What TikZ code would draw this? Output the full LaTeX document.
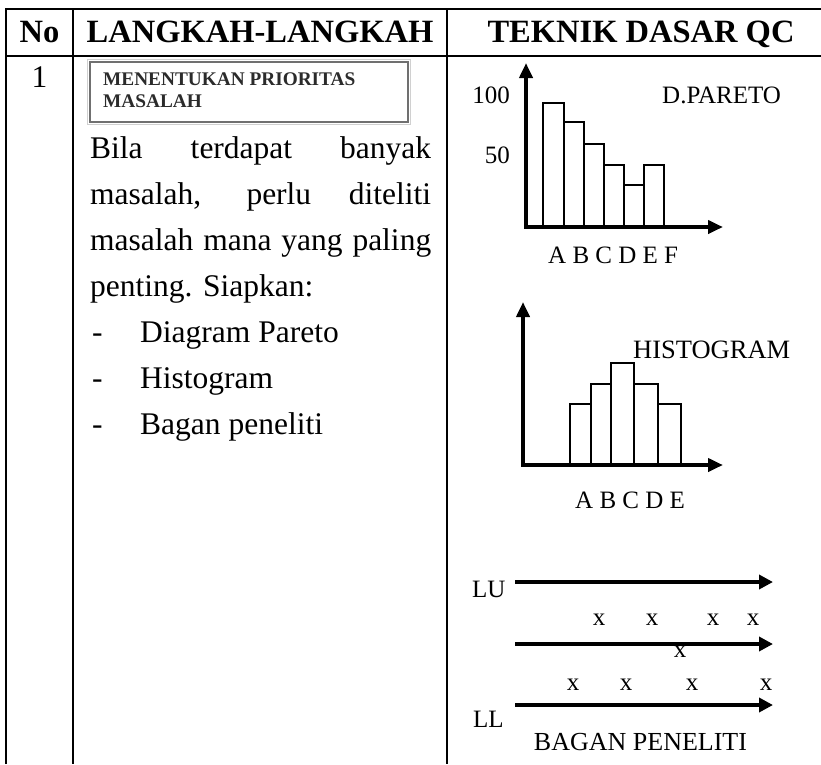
\documentclass[tikz,border=0pt]{standalone}
\usepackage{fontspec}
\setmainfont{Liberation Serif}
\usetikzlibrary{arrows.meta}
\definecolor{boxline}{HTML}{707070}
\definecolor{boxhalo}{HTML}{D0D0D0}
\definecolor{boxtext}{HTML}{2B2B2B}

\begin{document}
\begin{tikzpicture}[x=1pt,y=-1pt,
  rule/.style={line width=2.4pt,black},
  headtxt/.style={font=\fontsize{32.5}{38}\selectfont\bfseries,anchor=base,inner sep=0pt},
  bodytxt/.style={font=\fontsize{31.5}{46}\selectfont,anchor=base west,inner sep=0pt},
  boxtxt/.style={font=\fontsize{19.3}{22}\selectfont\bfseries,text=boxtext,anchor=base west,inner sep=0pt},
  charttxt/.style={font=\fontsize{25}{30}\selectfont,inner sep=0pt},
  bar/.style={line width=1.3pt,black},
  axes/.style={line width=4pt,line join=miter,
    {Triangle[length=15pt,width=13pt]}-{Triangle[length=15pt,width=13pt]}},
  timeline/.style={line width=4pt,-{Triangle[length=14pt,width=14pt]}},
  xmark/.style={charttxt,anchor=base}
]
\useasboundingbox (0,0) rectangle (821,764);

% ---------- table rules ----------
\draw[rule] (6,764) -- (6,9) -- (821,9);
\draw[rule] (6,56) -- (821,56);
\draw[rule] (73,9) -- (73,764);
\draw[rule] (447,9) -- (447,764);

% ---------- header ----------
\node[headtxt] (hno) at (39.5,42) {No};
\node[headtxt] (hsteps) at (260,42) {LANGKAH-LANGKAH};
\node[headtxt] (hqc) at (641,42) {TEKNIK DASAR QC};

% ---------- row 1 : number ----------
\node[font=\fontsize{31.5}{38}\selectfont,anchor=base,inner sep=0pt] (num) at (39.5,87) {1};

% ---------- row 1 : steps ----------
\draw[boxhalo,line width=1pt] (87.5,59.5) rectangle (410.5,124.5);
\draw[boxline,line width=1.3pt,fill=white] (90,62) rectangle (408,122);
\node[boxtxt] (title1) at (103,85) {MENENTUKAN PRIORITAS};
\node[boxtxt] (title2) at (103,107) {MASALAH};

\node[bodytxt] (l1) at (90,158) {\makebox[341pt][s]{Bila terdapat banyak}};
\node[bodytxt] (l2) at (90,204) {\makebox[341pt][s]{masalah, perlu diteliti}};
\node[bodytxt] (l3) at (90,250) {\makebox[341pt][s]{masalah mana yang paling}};
\node[bodytxt] (l4) at (90,296) {penting. Siapkan:};

\node[bodytxt] (d1) at (92,342) {-};
\node[bodytxt] (b1) at (140,342) {Diagram Pareto};
\node[bodytxt] (d2) at (92,388) {-};
\node[bodytxt] (b2) at (140,388) {Histogram};
\node[bodytxt] (d3) at (92,434) {-};
\node[bodytxt] (b3) at (140,434) {Bagan peneliti};

% ---------- Pareto diagram ----------
\coordinate (po) at (526,227);
\coordinate (pytip) at (526,63);
\coordinate (pxtip) at (723,227);
\foreach \xa/\xb/\top in {543/564/103, 564/584/122, 584/604/144, 604/624/165, 624/644/185, 644/664/165}
  \draw[bar] (\xa,227) rectangle (\xb,\top);
\draw[axes] (pytip) -- (po) -- (pxtip);
\node[charttxt,anchor=base east] (p100) at (510,103) {100};
\node[charttxt,anchor=base east] (p50) at (510,163) {50};
\node[charttxt,anchor=base west] (ptitle) at (662,103) {D.PARETO};
\node[charttxt,anchor=base west] (pcat) at (548,263) {A B C D E F};

% ---------- Histogram ----------
\coordinate (ho) at (523,465);
\coordinate (hytip) at (523,302);
\coordinate (hxtip) at (723,465);
\foreach \xa/\xb/\top in {570/591/404, 591/611/384, 611/634/363, 634/658/384, 658/681/404}
  \draw[bar] (\xa,465) rectangle (\xb,\top);
\draw[axes] (hytip) -- (ho) -- (hxtip);
\node[charttxt,anchor=base west,font=\fontsize{26.5}{30}\selectfont] (htitle) at (633,358) {HISTOGRAM};
\node[charttxt,anchor=base west] (hcat) at (575,508) {A B C D E};

% ---------- Bagan peneliti ----------
\coordinate (t1s) at (515,582); \coordinate (t1e) at (773,582);
\coordinate (t2s) at (515,644); \coordinate (t2e) at (773,644);
\coordinate (t3s) at (515,705); \coordinate (t3e) at (773,705);
\draw[timeline] (t1s) -- (t1e);
\draw[timeline] (t2s) -- (t2e);
\draw[timeline] (t3s) -- (t3e);
\node[charttxt,anchor=base west] (lu) at (472,597) {LU};
\node[charttxt,anchor=base west] (ll) at (473,727) {LL};
\node[xmark] (x1) at (599,625) {x};
\node[xmark] (x2) at (652,625) {x};
\node[xmark] (x3) at (713,625) {x};
\node[xmark] (x4) at (753,625) {x};
\node[xmark] (x5) at (680,657) {x};
\node[xmark] (x6) at (573,690) {x};
\node[xmark] (x7) at (626,690) {x};
\node[xmark] (x8) at (692,690) {x};
\node[xmark] (x9) at (766,690) {x};
\node[charttxt,anchor=base,font=\fontsize{26}{30}\selectfont] (btitle) at (640.5,750) {BAGAN PENELITI};
\end{tikzpicture}
\end{document}
